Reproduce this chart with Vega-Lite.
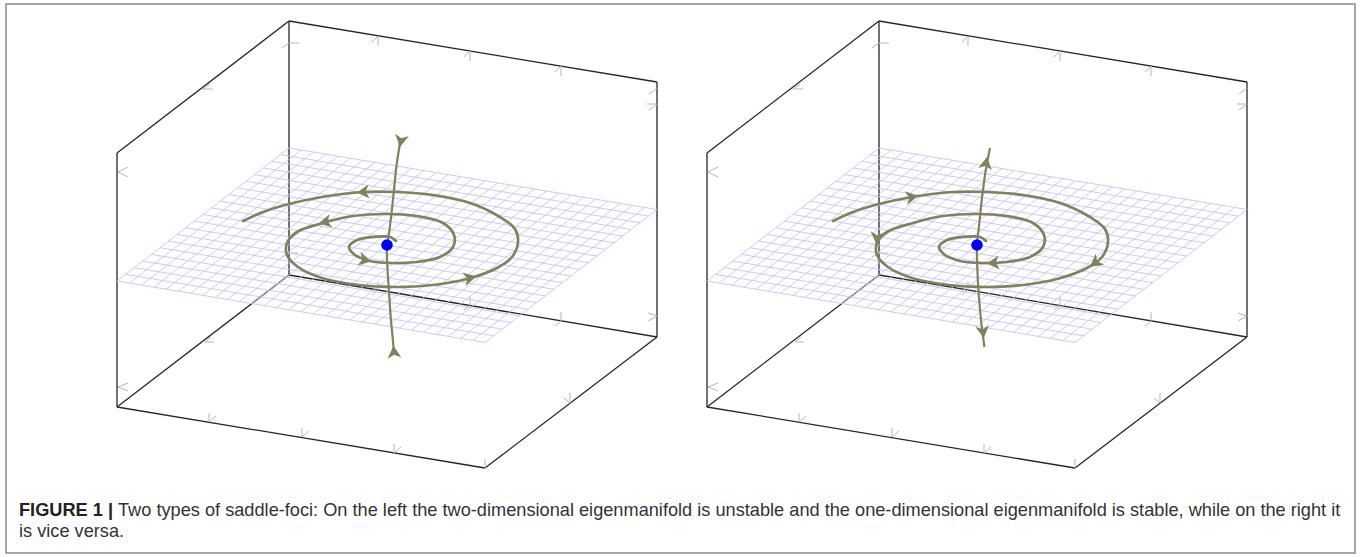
{
  "$schema": "https://vega.github.io/schema/vega-lite/v6.json",
  "width": 1361,
  "height": 557,
  "autosize": {"type": "fit", "contains": "padding"},
  "padding": 0,
  "background": "white",
  "config": {"view": {"stroke": null}},
  "datasets": {
    "box": [
      {"x": 289, "y": 21, "x2": 657, "y2": 82},
      {"x": 289, "y": 21, "x2": 117, "y2": 153},
      {"x": 117, "y": 153, "x2": 117, "y2": 407},
      {"x": 117, "y": 407, "x2": 485, "y2": 468},
      {"x": 485, "y": 468, "x2": 657, "y2": 337},
      {"x": 657, "y": 337, "x2": 657, "y2": 82},
      {"x": 289, "y": 21, "x2": 289, "y2": 275},
      {"x": 289, "y": 275, "x2": 117, "y2": 407},
      {"x": 289, "y": 275, "x2": 657, "y2": 337}
    ],
    "ticks": [
      {"x": 378, "y": 36, "x2": 378, "y2": 46}, {"x": 378, "y": 36, "x2": 372, "y2": 42},
      {"x": 470, "y": 51, "x2": 470, "y2": 61}, {"x": 470, "y": 51, "x2": 464, "y2": 57},
      {"x": 561, "y": 66, "x2": 561, "y2": 76}, {"x": 561, "y": 66, "x2": 555, "y2": 72},
      {"x": 289, "y": 43, "x2": 299, "y2": 43}, {"x": 289, "y": 43, "x2": 282, "y2": 48},
      {"x": 203, "y": 89, "x2": 213, "y2": 89}, {"x": 203, "y": 89, "x2": 210, "y2": 84},
      {"x": 657, "y": 88, "x2": 649, "y2": 94},
      {"x": 657, "y": 104, "x2": 647, "y2": 104}, {"x": 657, "y": 104, "x2": 649, "y2": 110},
      {"x": 118, "y": 172, "x2": 128, "y2": 167}, {"x": 118, "y": 172, "x2": 128, "y2": 177},
      {"x": 118, "y": 387, "x2": 128, "y2": 383}, {"x": 118, "y": 387, "x2": 128, "y2": 391},
      {"x": 205, "y": 342, "x2": 214, "y2": 342}, {"x": 205, "y": 342, "x2": 211, "y2": 337},
      {"x": 209, "y": 422, "x2": 209, "y2": 413}, {"x": 209, "y": 422, "x2": 216, "y2": 416},
      {"x": 302, "y": 437, "x2": 302, "y2": 428}, {"x": 302, "y": 437, "x2": 309, "y2": 431},
      {"x": 394, "y": 453, "x2": 394, "y2": 444}, {"x": 394, "y": 453, "x2": 401, "y2": 447},
      {"x": 485, "y": 468, "x2": 485, "y2": 459},
      {"x": 570, "y": 403, "x2": 570, "y2": 393}, {"x": 570, "y": 403, "x2": 564, "y2": 398},
      {"x": 378, "y": 290, "x2": 378, "y2": 281}, {"x": 378, "y": 290, "x2": 372, "y2": 295},
      {"x": 470, "y": 305, "x2": 470, "y2": 296}, {"x": 470, "y": 305, "x2": 464, "y2": 310},
      {"x": 561, "y": 321, "x2": 561, "y2": 312}, {"x": 561, "y": 321, "x2": 555, "y2": 326},
      {"x": 657, "y": 316, "x2": 648, "y2": 313}, {"x": 657, "y": 316, "x2": 648, "y2": 321},
      {"x": 289, "y": 253, "x2": 298, "y2": 253}, {"x": 289, "y": 253, "x2": 282, "y2": 257}
    ],
    "grid": [
      {"x": 289, "y": 148, "x2": 117, "y2": 281},
      {"x": 301.27, "y": 150.05, "x2": 129.27, "y2": 283.05},
      {"x": 313.53, "y": 152.1, "x2": 141.53, "y2": 285.1},
      {"x": 325.8, "y": 154.15, "x2": 153.8, "y2": 287.15},
      {"x": 338.07, "y": 156.2, "x2": 166.07, "y2": 289.2},
      {"x": 350.33, "y": 158.25, "x2": 178.33, "y2": 291.25},
      {"x": 362.6, "y": 160.3, "x2": 190.6, "y2": 293.3},
      {"x": 374.87, "y": 162.35, "x2": 202.87, "y2": 295.35},
      {"x": 387.13, "y": 164.4, "x2": 215.13, "y2": 297.4},
      {"x": 399.4, "y": 166.45, "x2": 227.4, "y2": 299.45},
      {"x": 411.67, "y": 168.5, "x2": 239.67, "y2": 301.5},
      {"x": 423.93, "y": 170.55, "x2": 251.93, "y2": 303.55},
      {"x": 436.2, "y": 172.6, "x2": 264.2, "y2": 305.6},
      {"x": 448.47, "y": 174.65, "x2": 276.47, "y2": 307.65},
      {"x": 460.73, "y": 176.7, "x2": 288.73, "y2": 309.7},
      {"x": 473, "y": 178.75, "x2": 301, "y2": 311.75},
      {"x": 485.27, "y": 180.8, "x2": 313.27, "y2": 313.8},
      {"x": 497.53, "y": 182.85, "x2": 325.53, "y2": 315.85},
      {"x": 509.8, "y": 184.9, "x2": 337.8, "y2": 317.9},
      {"x": 522.07, "y": 186.95, "x2": 350.07, "y2": 319.95},
      {"x": 534.33, "y": 189, "x2": 362.33, "y2": 322},
      {"x": 546.6, "y": 191.05, "x2": 374.6, "y2": 324.05},
      {"x": 558.87, "y": 193.1, "x2": 386.87, "y2": 326.1},
      {"x": 571.13, "y": 195.15, "x2": 399.13, "y2": 328.15},
      {"x": 583.4, "y": 197.2, "x2": 411.4, "y2": 330.2},
      {"x": 595.67, "y": 199.25, "x2": 423.67, "y2": 332.25},
      {"x": 607.93, "y": 201.3, "x2": 435.93, "y2": 334.3},
      {"x": 620.2, "y": 203.35, "x2": 448.2, "y2": 336.35},
      {"x": 632.47, "y": 205.4, "x2": 460.47, "y2": 338.4},
      {"x": 644.73, "y": 207.45, "x2": 472.73, "y2": 340.45},
      {"x": 657, "y": 209.5, "x2": 485, "y2": 342.5},
      {"x": 289, "y": 148, "x2": 657, "y2": 209.5},
      {"x": 280.4, "y": 154.65, "x2": 648.4, "y2": 216.15},
      {"x": 271.8, "y": 161.3, "x2": 639.8, "y2": 222.8},
      {"x": 263.2, "y": 167.95, "x2": 631.2, "y2": 229.45},
      {"x": 254.6, "y": 174.6, "x2": 622.6, "y2": 236.1},
      {"x": 246, "y": 181.25, "x2": 614, "y2": 242.75},
      {"x": 237.4, "y": 187.9, "x2": 605.4, "y2": 249.4},
      {"x": 228.8, "y": 194.55, "x2": 596.8, "y2": 256.05},
      {"x": 220.2, "y": 201.2, "x2": 588.2, "y2": 262.7},
      {"x": 211.6, "y": 207.85, "x2": 579.6, "y2": 269.35},
      {"x": 203, "y": 214.5, "x2": 571, "y2": 276},
      {"x": 194.4, "y": 221.15, "x2": 562.4, "y2": 282.65},
      {"x": 185.8, "y": 227.8, "x2": 553.8, "y2": 289.3},
      {"x": 177.2, "y": 234.45, "x2": 545.2, "y2": 295.95},
      {"x": 168.6, "y": 241.1, "x2": 536.6, "y2": 302.6},
      {"x": 160, "y": 247.75, "x2": 528, "y2": 309.25},
      {"x": 151.4, "y": 254.4, "x2": 519.4, "y2": 315.9},
      {"x": 142.8, "y": 261.05, "x2": 510.8, "y2": 322.55},
      {"x": 134.2, "y": 267.7, "x2": 502.2, "y2": 329.2},
      {"x": 125.6, "y": 274.35, "x2": 493.6, "y2": 335.85},
      {"x": 117, "y": 281, "x2": 485, "y2": 342.5}
    ],
    "spiral": [
      {"i": 1, "x": 243, "y": 221}, {"i": 2, "x": 263, "y": 212}, {"i": 3, "x": 285, "y": 205},
      {"i": 4, "x": 322, "y": 197}, {"i": 5, "x": 363, "y": 192}, {"i": 6, "x": 396, "y": 192},
      {"i": 7, "x": 433, "y": 195}, {"i": 8, "x": 470, "y": 203}, {"i": 9, "x": 500, "y": 217},
      {"i": 10, "x": 515, "y": 229}, {"i": 11, "x": 518, "y": 242}, {"i": 12, "x": 512, "y": 257},
      {"i": 13, "x": 497, "y": 268}, {"i": 14, "x": 467, "y": 279}, {"i": 15, "x": 433, "y": 285},
      {"i": 16, "x": 396, "y": 287}, {"i": 17, "x": 359, "y": 285}, {"i": 18, "x": 322, "y": 278},
      {"i": 19, "x": 298, "y": 267}, {"i": 20, "x": 287, "y": 255}, {"i": 21, "x": 287, "y": 243},
      {"i": 22, "x": 297, "y": 232}, {"i": 23, "x": 323, "y": 223}, {"i": 24, "x": 353, "y": 216},
      {"i": 25, "x": 387, "y": 214}, {"i": 26, "x": 417, "y": 216}, {"i": 27, "x": 443, "y": 223},
      {"i": 28, "x": 454, "y": 235}, {"i": 29, "x": 453, "y": 247}, {"i": 30, "x": 440, "y": 257},
      {"i": 31, "x": 417, "y": 262}, {"i": 32, "x": 390, "y": 263}, {"i": 33, "x": 370, "y": 261},
      {"i": 34, "x": 355, "y": 255}, {"i": 35, "x": 349, "y": 247}, {"i": 36, "x": 357, "y": 240},
      {"i": 37, "x": 373, "y": 237}, {"i": 38, "x": 390, "y": 237}, {"i": 39, "x": 396, "y": 241}
    ],
    "vlineL": [
      {"i": 1, "x": 400.5, "y": 138}, {"i": 2, "x": 399.3, "y": 147}, {"i": 3, "x": 396.3, "y": 167},
      {"i": 4, "x": 393.7, "y": 193}, {"i": 5, "x": 390.7, "y": 220}, {"i": 6, "x": 388, "y": 240},
      {"i": 7, "x": 387, "y": 245}, {"i": 8, "x": 387.4, "y": 267}, {"i": 9, "x": 388.9, "y": 290},
      {"i": 10, "x": 390.7, "y": 317}, {"i": 11, "x": 392.6, "y": 337}, {"i": 12, "x": 394, "y": 353}
    ],
    "vlineR": [
      {"i": 1, "x": 400, "y": 148}, {"i": 2, "x": 396.3, "y": 167}, {"i": 3, "x": 392.6, "y": 193},
      {"i": 4, "x": 388.9, "y": 227}, {"i": 5, "x": 387, "y": 245}, {"i": 6, "x": 388, "y": 283},
      {"i": 7, "x": 390.7, "y": 317}, {"i": 8, "x": 394.4, "y": 347}
    ],
    "arrowsL": [
      {"x": 363, "y": 192, "heading": 266},
      {"x": 325, "y": 222, "heading": 258},
      {"x": 365, "y": 260, "heading": 103},
      {"x": 470, "y": 278, "heading": 77},
      {"x": 401, "y": 141, "heading": 189},
      {"x": 394, "y": 352, "heading": 355}
    ],
    "arrowsR": [
      {"x": 322, "y": 197, "heading": 80},
      {"x": 287, "y": 238, "heading": 185},
      {"x": 403, "y": 263, "heading": 265},
      {"x": 505, "y": 263, "heading": 233},
      {"x": 396, "y": 163, "heading": 9},
      {"x": 393, "y": 332, "heading": 173}
    ],
    "focus": [{"x": 387, "y": 245}],
    "frame": [{"x": 6, "y": 4, "x2": 1355, "y2": 553}],
    "captionLabel": [{"x": 19, "y": 516, "t": "FIGURE 1 |"}],
    "captionBody": [
      {"x": 118, "y": 516, "t": "Two types of saddle-foci: On the left the two-dimensional eigenmanifold is unstable and the one-dimensional eigenmanifold is stable, while on the right it"},
      {"x": 19, "y": 537, "t": "is vice versa."}
    ]
  },
  "resolve": {"scale": {"x": "independent"}},
  "layer": [
    {
      "layer": [
        {"data": {"name": "box"}, "mark": {"type": "rule", "color": "#262626", "strokeWidth": 1.3},
         "encoding": {"x": {"field": "x", "type": "quantitative", "scale": {"domain": [0, 1361], "nice": false, "zero": false}, "axis": null},
                      "y": {"field": "y", "type": "quantitative", "scale": {"domain": [0, 557], "nice": false, "zero": false, "reverse": true}, "axis": null},
                      "x2": {"field": "x2"}, "y2": {"field": "y2"}}},
        {"data": {"name": "ticks"}, "mark": {"type": "rule", "color": "#b5b5b5", "strokeWidth": 1},
         "encoding": {"x": {"field": "x", "type": "quantitative", "axis": null}, "y": {"field": "y", "type": "quantitative", "axis": null},
                      "x2": {"field": "x2"}, "y2": {"field": "y2"}}},
        {"data": {"name": "grid"}, "mark": {"type": "rule", "color": "#c4c4f6", "strokeWidth": 0.9},
         "encoding": {"x": {"field": "x", "type": "quantitative", "axis": null}, "y": {"field": "y", "type": "quantitative", "axis": null},
                      "x2": {"field": "x2"}, "y2": {"field": "y2"}}},
        {"data": {"name": "spiral"}, "mark": {"type": "line", "color": "#84805c", "strokeWidth": 2.7, "interpolate": "catmull-rom", "strokeCap": "round"},
         "encoding": {"x": {"field": "x", "type": "quantitative", "axis": null}, "y": {"field": "y", "type": "quantitative", "axis": null},
                      "order": {"field": "i", "type": "quantitative"}}},
        {"data": {"name": "vlineL"}, "mark": {"type": "line", "color": "#84805c", "strokeWidth": 2.2, "interpolate": "catmull-rom"},
         "encoding": {"x": {"field": "x", "type": "quantitative", "axis": null}, "y": {"field": "y", "type": "quantitative", "axis": null},
                      "order": {"field": "i", "type": "quantitative"}}},
        {"data": {"name": "arrowsL"}, "mark": {"type": "point", "filled": true, "opacity": 1, "color": "#84805c", "size": 240, "shape": "M0,-0.8L0.9,0.8L0,0.35L-0.9,0.8Z"},
         "encoding": {"x": {"field": "x", "type": "quantitative", "axis": null}, "y": {"field": "y", "type": "quantitative", "axis": null},
                      "angle": {"field": "heading", "type": "quantitative", "scale": null}}},
        {"data": {"name": "focus"}, "mark": {"type": "point", "filled": true, "opacity": 1, "color": "#0000ff", "size": 135, "shape": "circle"},
         "encoding": {"x": {"field": "x", "type": "quantitative", "axis": null}, "y": {"field": "y", "type": "quantitative", "axis": null}}}
      ]
    },
    {
      "layer": [
        {"data": {"name": "box"}, "mark": {"type": "rule", "color": "#262626", "strokeWidth": 1.3},
         "encoding": {"x": {"field": "x", "type": "quantitative", "scale": {"domain": [-590, 771], "nice": false, "zero": false}, "axis": null},
                      "y": {"field": "y", "type": "quantitative", "scale": {"domain": [0, 557], "nice": false, "zero": false, "reverse": true}, "axis": null},
                      "x2": {"field": "x2"}, "y2": {"field": "y2"}}},
        {"data": {"name": "ticks"}, "mark": {"type": "rule", "color": "#b5b5b5", "strokeWidth": 1},
         "encoding": {"x": {"field": "x", "type": "quantitative", "axis": null}, "y": {"field": "y", "type": "quantitative", "axis": null},
                      "x2": {"field": "x2"}, "y2": {"field": "y2"}}},
        {"data": {"name": "grid"}, "mark": {"type": "rule", "color": "#c4c4f6", "strokeWidth": 0.9},
         "encoding": {"x": {"field": "x", "type": "quantitative", "axis": null}, "y": {"field": "y", "type": "quantitative", "axis": null},
                      "x2": {"field": "x2"}, "y2": {"field": "y2"}}},
        {"data": {"name": "spiral"}, "mark": {"type": "line", "color": "#84805c", "strokeWidth": 2.7, "interpolate": "catmull-rom", "strokeCap": "round"},
         "encoding": {"x": {"field": "x", "type": "quantitative", "axis": null}, "y": {"field": "y", "type": "quantitative", "axis": null},
                      "order": {"field": "i", "type": "quantitative"}}},
        {"data": {"name": "vlineR"}, "mark": {"type": "line", "color": "#84805c", "strokeWidth": 2.2, "interpolate": "catmull-rom"},
         "encoding": {"x": {"field": "x", "type": "quantitative", "axis": null}, "y": {"field": "y", "type": "quantitative", "axis": null},
                      "order": {"field": "i", "type": "quantitative"}}},
        {"data": {"name": "arrowsR"}, "mark": {"type": "point", "filled": true, "opacity": 1, "color": "#84805c", "size": 240, "shape": "M0,-0.8L0.9,0.8L0,0.35L-0.9,0.8Z"},
         "encoding": {"x": {"field": "x", "type": "quantitative", "axis": null}, "y": {"field": "y", "type": "quantitative", "axis": null},
                      "angle": {"field": "heading", "type": "quantitative", "scale": null}}},
        {"data": {"name": "focus"}, "mark": {"type": "point", "filled": true, "opacity": 1, "color": "#0000ff", "size": 135, "shape": "circle"},
         "encoding": {"x": {"field": "x", "type": "quantitative", "axis": null}, "y": {"field": "y", "type": "quantitative", "axis": null}}}
      ]
    },
    {
      "layer": [
        {"data": {"name": "frame"}, "mark": {"type": "rect", "filled": false, "stroke": "#8a8a8a", "strokeWidth": 1.5},
         "encoding": {"x": {"field": "x", "type": "quantitative", "scale": {"domain": [0, 1361], "nice": false, "zero": false}, "axis": null},
                      "y": {"field": "y", "type": "quantitative", "scale": {"domain": [0, 557], "nice": false, "zero": false, "reverse": true}, "axis": null},
                      "x2": {"field": "x2"}, "y2": {"field": "y2"}}},
        {"data": {"name": "captionLabel"}, "mark": {"type": "text", "align": "left", "baseline": "alphabetic", "font": "Liberation Sans", "fontSize": 18.2, "fontWeight": "bold", "color": "#222222"},
         "encoding": {"x": {"field": "x", "type": "quantitative", "axis": null}, "y": {"field": "y", "type": "quantitative", "axis": null}, "text": {"field": "t"}}},
        {"data": {"name": "captionBody"}, "mark": {"type": "text", "align": "left", "baseline": "alphabetic", "font": "Liberation Sans", "fontSize": 18.2, "color": "#333333"},
         "encoding": {"x": {"field": "x", "type": "quantitative", "axis": null}, "y": {"field": "y", "type": "quantitative", "axis": null}, "text": {"field": "t"}}}
      ]
    }
  ]
}
